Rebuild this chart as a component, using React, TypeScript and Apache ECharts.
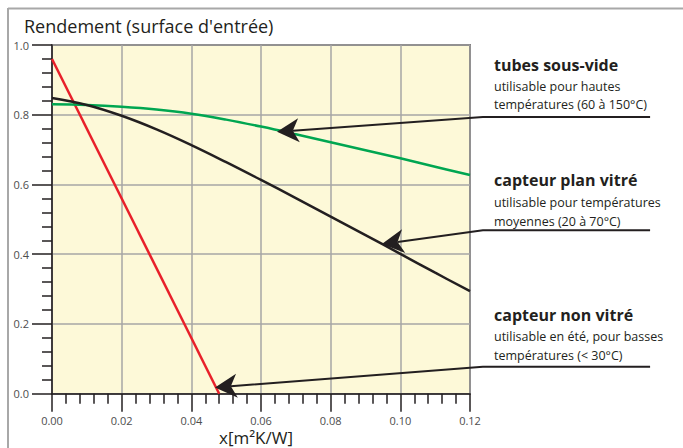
import React, { useEffect, useRef } from "react";
import * as echarts from "echarts";

// ---- data ----
const xValues = [0, 0.01, 0.02, 0.03, 0.04, 0.05, 0.06, 0.07, 0.08, 0.09, 0.1, 0.11, 0.12];
const tubesSousVide = [0.83, 0.828, 0.823, 0.815, 0.803, 0.786, 0.766, 0.744, 0.721, 0.698, 0.675, 0.651, 0.627];
const capteurPlanVitre = [0.848, 0.828, 0.797, 0.758, 0.713, 0.664, 0.613, 0.561, 0.508, 0.455, 0.401, 0.347, 0.294];
const capteurNonVitreX = [0, 0.048];
const capteurNonVitreY = [0.96, 0];

// annotation arrows (data space)
const arrowStartX = 0.1717;
const arrowElbowX = 0.1237;
const arrowLevelY = [0.7935, 0.469, 0.0774];
const arrowTipX = [0.0646, 0.0947, 0.0468];
const arrowTipY = [0.751, 0.429, 0.018];

// texts
const chartTitle = "Rendement (surface d'entrée)";
const xAxisName = "x[m²K/W]";
const annotationTitles = ["tubes sous-vide", "capteur plan vitré", "capteur non vitré"];
const annotationLines = [
  ["utilisable pour hautes", "températures (60 à 150°C)"],
  ["utilisable pour températures", "moyennes (20 à 70°C)"],
  ["utilisable en été, pour basses", "températures (< 30°C)"],
];
const annotationTitleY = [65, 180, 315];
const annotationLineY = [
  [86.5, 104],
  [202, 221],
  [336.5, 355.5],
];

const FONT = "'Open Sans', 'Noto Sans', sans-serif";
const INK = "#231f20";

export default function App() {
  const ref = useRef<HTMLDivElement>(null);
  useEffect(() => {
    if (!ref.current) return;
    const chart = echarts.init(ref.current, undefined, { renderer: "svg" });

    chart.setOption({
      animation: false,
      backgroundColor: "#ffffff",
      title: {
        text: chartTitle,
        left: 19,
        top: 12,
        textStyle: { fontSize: 18, fontWeight: "normal", color: INK, fontFamily: FONT },
      },
      grid: {
        left: 52,
        right: 213,
        top: 45,
        bottom: 54.3,
        show: true,
        containLabel: false,
        outerBoundsMode: "none",
        backgroundColor: "#fdf9d8",
        borderColor: INK,
        borderWidth: 1.5,
      },
      xAxis: {
        type: "value",
        min: 0,
        max: 0.12,
        interval: 0.02,
        name: xAxisName,
        nameLocation: "middle",
        nameGap: 35,
        nameMoveOverlap: false,
        nameTextStyle: { fontSize: 17, color: INK, fontFamily: FONT, padding: [0, 10, 0, 0] },
        axisLine: { show: true, onZero: false, lineStyle: { color: INK, width: 1.5 } },
        axisTick: { show: true, length: 18, lineStyle: { color: INK, width: 1.5 } },
        minorTick: { show: true, splitNumber: 5, length: 10, lineStyle: { color: INK, width: 1.5 } },
        splitLine: { show: true, lineStyle: { color: "#a6a6a6", width: 1.5 } },
        minorSplitLine: { show: false },
        axisLabel: {
          margin: 21,
          fontSize: 11,
          color: "#4d4d4d",
          fontFamily: FONT,
          formatter: (v: number) => v.toFixed(2),
        },
      },
      yAxis: {
        type: "value",
        min: 0,
        max: 1,
        interval: 0.2,
        axisLine: { show: true, onZero: false, lineStyle: { color: INK, width: 1.5 } },
        axisTick: { show: true, length: 20, lineStyle: { color: INK, width: 1.5 } },
        minorTick: { show: true, splitNumber: 5, length: 10, lineStyle: { color: INK, width: 1.5 } },
        splitLine: { show: true, lineStyle: { color: "#a6a6a6", width: 1.5 } },
        minorSplitLine: { show: false },
        axisLabel: {
          margin: 23,
          fontSize: 11,
          color: "#4d4d4d",
          fontFamily: FONT,
          padding: [0, 0, 3, 0],
          formatter: (v: number) => v.toFixed(1),
        },
      },
      series: [
        {
          name: "capteur non vitré",
          type: "line",
          data: capteurNonVitreX.map((x, i) => [x, capteurNonVitreY[i]]),
          showSymbol: false,
          clip: false,
          lineStyle: { color: "#e8202a", width: 2.5 },
          itemStyle: { color: "#e8202a" },
        },
        {
          name: "tubes sous-vide",
          type: "line",
          data: xValues.map((x, i) => [x, tubesSousVide[i]]),
          smooth: 0.4,
          showSymbol: false,
          clip: false,
          lineStyle: { color: "#00a651", width: 2.5 },
          itemStyle: { color: "#00a651" },
        },
        {
          name: "capteur plan vitré",
          type: "line",
          data: xValues.map((x, i) => [x, capteurPlanVitre[i]]),
          smooth: 0.4,
          showSymbol: false,
          clip: false,
          lineStyle: { color: INK, width: 2.5 },
          itemStyle: { color: INK },
        },
      ],
    });

    const toPx = (p: number[]) => chart.convertToPixel({ gridIndex: 0 }, p) as number[];

    const graphics: any[] = [
      { type: "line", shape: { x1: 8, y1: 8.5, x2: 683, y2: 8.5 }, style: { stroke: "#a8a8a8", lineWidth: 2 }, silent: true },
      { type: "line", shape: { x1: 8, y1: 8, x2: 8, y2: 448 }, style: { stroke: "#a8a8a8", lineWidth: 2 }, silent: true },
    ];

    arrowLevelY.forEach((ly, i) => {
      const s = toPx([arrowStartX, ly]);
      const e = toPx([arrowElbowX, ly]);
      const t = toPx([arrowTipX[i], arrowTipY[i]]);
      const dx = t[0] - e[0];
      const dy = t[1] - e[1];
      const len = Math.hypot(dx, dy);
      const ux = dx / len;
      const uy = dy / len;
      const nx = -uy;
      const ny = ux;
      const L = 22;
      const W = 24;
      const back = [t[0] - L * ux, t[1] - L * uy];
      const notch = [t[0] - 0.72 * L * ux, t[1] - 0.72 * L * uy];
      graphics.push({
        type: "polyline",
        shape: { points: [s, e, notch] },
        style: { stroke: INK, lineWidth: 2, fill: "none" },
        silent: true,
        z: 10,
      });
      graphics.push({
        type: "polygon",
        shape: {
          points: [
            t,
            [back[0] + (W / 2) * nx, back[1] + (W / 2) * ny],
            notch,
            [back[0] - (W / 2) * nx, back[1] - (W / 2) * ny],
          ],
        },
        style: { fill: INK, stroke: "none" },
        silent: true,
        z: 10,
      });
    });

    annotationTitles.forEach((tt, i) => {
      graphics.push({
        type: "text",
        x: 494,
        y: annotationTitleY[i],
        style: { text: tt, font: `bold 16px ${FONT}`, fill: INK, verticalAlign: "middle", align: "left" },
        silent: true,
      });
      annotationLines[i].forEach((line, j) => {
        graphics.push({
          type: "text",
          x: 494,
          y: annotationLineY[i][j],
          style: { text: line, font: `12.5px ${FONT}`, fill: INK, verticalAlign: "middle", align: "left" },
          silent: true,
        });
      });
    });

    chart.setOption({ graphic: graphics });
    return () => chart.dispose();
  }, []);
  return <div ref={ref} style={{ position: "fixed", left: 0, top: 0, width: 683, height: 448 }} />;
}
